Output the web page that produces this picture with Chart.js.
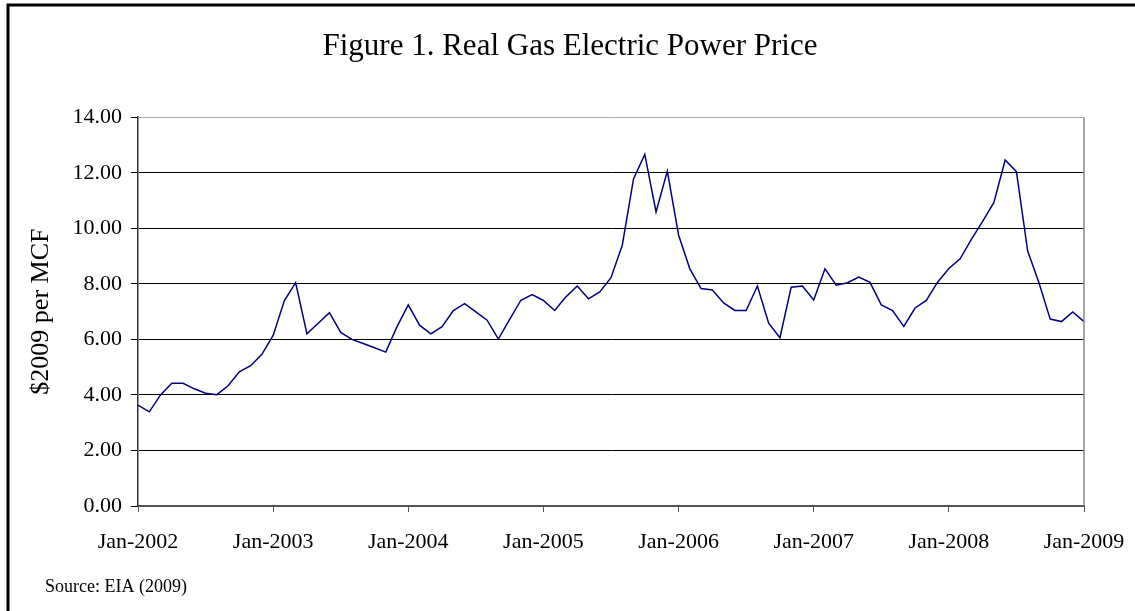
<!DOCTYPE html>
<html>
<head>
<meta charset="utf-8">
<script src="https://cdn.jsdelivr.net/npm/chart.js@4"></script>
<style>
html,body{margin:0;padding:0;background:#fff;}
#wrap{position:relative;width:1135px;height:611px;}
</style>
</head>
<body>
<div id="wrap"><canvas id="c" width="1135" height="611"></canvas></div>
<script>
const years = [2002, 2003, 2004, 2005, 2006, 2007, 2008, 2009];
const monthNames = ['Jan','Feb','Mar','Apr','May','Jun','Jul','Aug','Sep','Oct','Nov','Dec'];
const categories = [];
years.forEach(y => monthNames.forEach(m => { if (y < 2009 || m === 'Jan') categories.push(m + '-' + y); }));

const prices = [
  3.63, 3.39, 4.00, 4.42, 4.42, 4.22, 4.06, 4.01, 4.33, 4.83, 5.05, 5.46,
  6.14, 7.40, 8.04, 6.20, 6.58, 6.96, 6.25, 6.00, 5.85, 5.70, 5.54, 6.46,
  7.24, 6.51, 6.20, 6.46, 7.04, 7.29, 6.99, 6.69, 6.01, 6.72, 7.41, 7.61,
  7.40, 7.04, 7.53, 7.92, 7.46, 7.71, 8.22, 9.39, 11.78, 12.66, 10.59, 12.06,
  9.76, 8.54, 7.83, 7.78, 7.31, 7.04, 7.04, 7.92, 6.58, 6.06, 7.88, 7.92,
  7.42, 8.54, 7.95, 8.04, 8.24, 8.05, 7.24, 7.04, 6.47, 7.13, 7.40, 8.06,
  8.55, 8.90, 9.60, 10.25, 10.93, 12.46, 12.04, 9.18, 8.04, 6.73, 6.64, 6.99,
  6.64
];
const yTicks = [0, 2, 4, 6, 8, 10, 12, 14];
const titleText = 'Figure 1. Real Gas Electric Power Price';
const yTitle = '$2009 per MCF';
const sourceText = 'Source: EIA (2009)';

const serif = "'Liberation Serif', 'DejaVu Serif', serif";

const frame = {
  id: 'frame',
  afterDraw(chart) {
    const ctx = chart.ctx;
    const a = chart.chartArea;
    ctx.save();
    // outer frame
    ctx.strokeStyle = '#000';
    ctx.lineWidth = 3;
    ctx.beginPath();
    ctx.moveTo(8, 611);
    ctx.lineTo(8, 5);
    ctx.lineTo(1135, 5);
    ctx.stroke();
    // right plot border
    ctx.strokeStyle = '#888';
    ctx.lineWidth = 1.5;
    ctx.beginPath();
    ctx.moveTo(a.right, a.top);
    ctx.lineTo(a.right, a.bottom);
    ctx.stroke();
    // source note
    ctx.fillStyle = '#000';
    ctx.font = "18px " + serif;
    ctx.textBaseline = 'middle';
    ctx.textAlign = 'left';
    ctx.fillText(sourceText, 45, 587);
    ctx.restore();
  }
};

new Chart(document.getElementById('c'), {
  type: 'line',
  data: {
    labels: categories,
    datasets: [{
      data: prices,
      borderColor: '#000080',
      borderWidth: 1.5,
      pointRadius: 0,
      tension: 0,
      fill: false
    }]
  },
  options: {
    responsive: false,
    animation: false,
    devicePixelRatio: 1,
    layout: { padding: { left: 8, right: 3, top: 0, bottom: 0 } },
    plugins: {
      legend: { display: false },
      tooltip: { enabled: false },
      title: {
        display: true,
        text: titleText,
        color: '#000',
        font: { family: serif, size: 31, weight: 'normal' },
        padding: { top: 28, bottom: 52 }
      }
    },
    scales: {
      x: {
        type: 'category',
        offset: false,
        afterFit(s) { s.height = 105; s.paddingLeft = 0; s.paddingRight = 0; },
        border: { color: '#555', width: 2 },
        grid: {
          drawOnChartArea: false,
          drawTicks: true,
          tickLength: 6,
          color: (c) => (c.index % 12 === 0 ? '#555' : 'rgba(0,0,0,0)')
        },
        ticks: {
          autoSkip: false,
          maxRotation: 0,
          minRotation: 0,
          padding: 17,
          color: '#000',
          font: { family: serif, size: 22 },
          callback: function (v, i) { return i % 12 === 0 ? categories[i] : ''; }
        }
      },
      y: {
        min: 0,
        max: 14,
        afterFit(s) { s.width = 130; },
        afterBuildTicks(s) { s.ticks = yTicks.map(v => ({ value: v })); },
        border: { color: '#333', width: 1.5 },
        grid: {
          color: (c) => (c.tick && c.tick.value === 14 ? '#aaa' : '#000'),
          lineWidth: 1,
          tickLength: 7,
          tickColor: '#000'
        },
        ticks: {
          padding: 9,
          color: '#000',
          font: { family: serif, size: 22 },
          callback: (v) => Number(v).toFixed(2)
        },
        title: {
          display: true,
          text: yTitle,
          color: '#000',
          font: { family: serif, size: 26 },
          padding: { top: 18, bottom: 0 }
        }
      },
      yRight: {
        position: 'right',
        display: true,
        min: 0,
        max: 14,
        afterFit(s) { s.width = 48; },
        grid: { display: false, drawTicks: false },
        border: { display: false },
        ticks: { display: false }
      }
    }
  },
  plugins: [frame]
});
</script>
</body>
</html>
